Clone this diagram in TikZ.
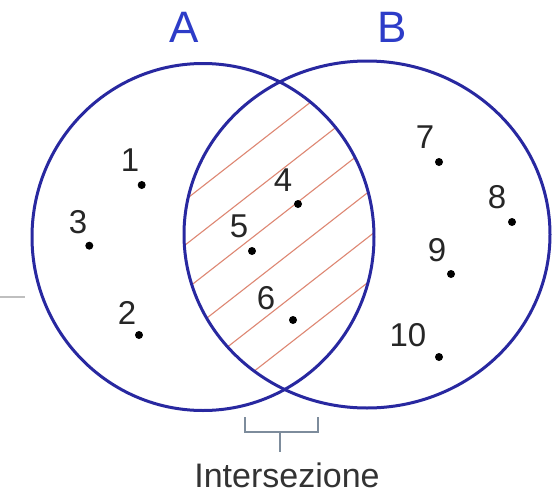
\documentclass[tikz,border=0pt]{standalone}
\usepackage{fontspec}
\setmainfont{Liberation Sans}
\definecolor{circ}{RGB}{40,40,160}
\definecolor{lab}{RGB}{45,60,200}
\definecolor{hatchc}{RGB}{222,135,115}
\definecolor{brk}{RGB}{125,140,156}
\begin{document}
\begin{tikzpicture}[x=1pt,y=-1pt,
  num/.style={font=\fontsize{33}{36}\selectfont, text=black!85, inner sep=0},
  dotmark/.style={circle, fill=black, inner sep=0, minimum size=8pt},
  setlab/.style={font=\fontsize{44}{48}\selectfont, text=lab, inner sep=0},
  setline/.style={draw=circ, line width=3pt},
  hatchline/.style={draw=hatchc, line width=1.1pt},
  bracket/.style={draw=brk, line width=2.5pt}]
\useasboundingbox[fill=white] (0,0) rectangle (555,496);
% stray mark at left
\draw[black!25, line width=1.5pt] (0,297) -- (25,297);
% hatching of the intersection
\begin{scope}
  \clip (203,237) ellipse [x radius=171pt, y radius=173.5pt];
  \clip (367,234.5) ellipse [x radius=183pt, y radius=173.5pt];
  \foreach \c in {126,171,216,261,306,351}{
    \draw[hatchline] (150,{\c+101.4}) -- (420,{\c-109.2});
  }
\end{scope}
% the two sets
\draw[setline] (203,237) ellipse [x radius=171pt, y radius=173.5pt];
\draw[setline] (367,234.5) ellipse [x radius=183pt, y radius=173.5pt];
\node[setlab] (labA) at (184,27.5) {A};
\node[setlab] (labB) at (392,27.5) {B};
% elements
\node[num] (n1) at (130,160) {1};  \node[dotmark] (d1) at (141.7,185) {};
\node[num] (n3) at (78,222) {3};   \node[dotmark] (d3) at (89.3,245.7) {};
\node[num] (n2) at (127,313) {2};  \node[dotmark] (d2) at (139,335) {};
\node[num] (n4) at (283,180) {4};  \node[dotmark] (d4) at (298,204) {};
\node[num] (n5) at (239,226) {5};  \node[dotmark] (d5) at (252,251) {};
\node[num] (n6) at (266,298) {6};  \node[dotmark] (d6) at (293,320) {};
\node[num] (n7) at (425,137) {7};  \node[dotmark] (d7) at (439,162) {};
\node[num] (n8) at (497,197) {8};  \node[dotmark] (d8) at (512,222) {};
\node[num] (n9) at (437,250) {9};  \node[dotmark] (d9) at (451,274) {};
\node[num] (n10) at (408,335) {10}; \node[dotmark] (d10) at (439,357) {};
% bracket and caption
\node[num, font=\fontsize{34}{38}\selectfont, text=black!80] (cap) at (287,475.5) {Intersezione};
\coordinate (stemtop) at (280,432);
\coordinate (stembot) at (280,452);
\draw[bracket] (245,417) -- (245,432) -- (318,432) -- (318,417);
\draw[bracket] (stemtop) -- (stembot);
\end{tikzpicture}
\end{document}
